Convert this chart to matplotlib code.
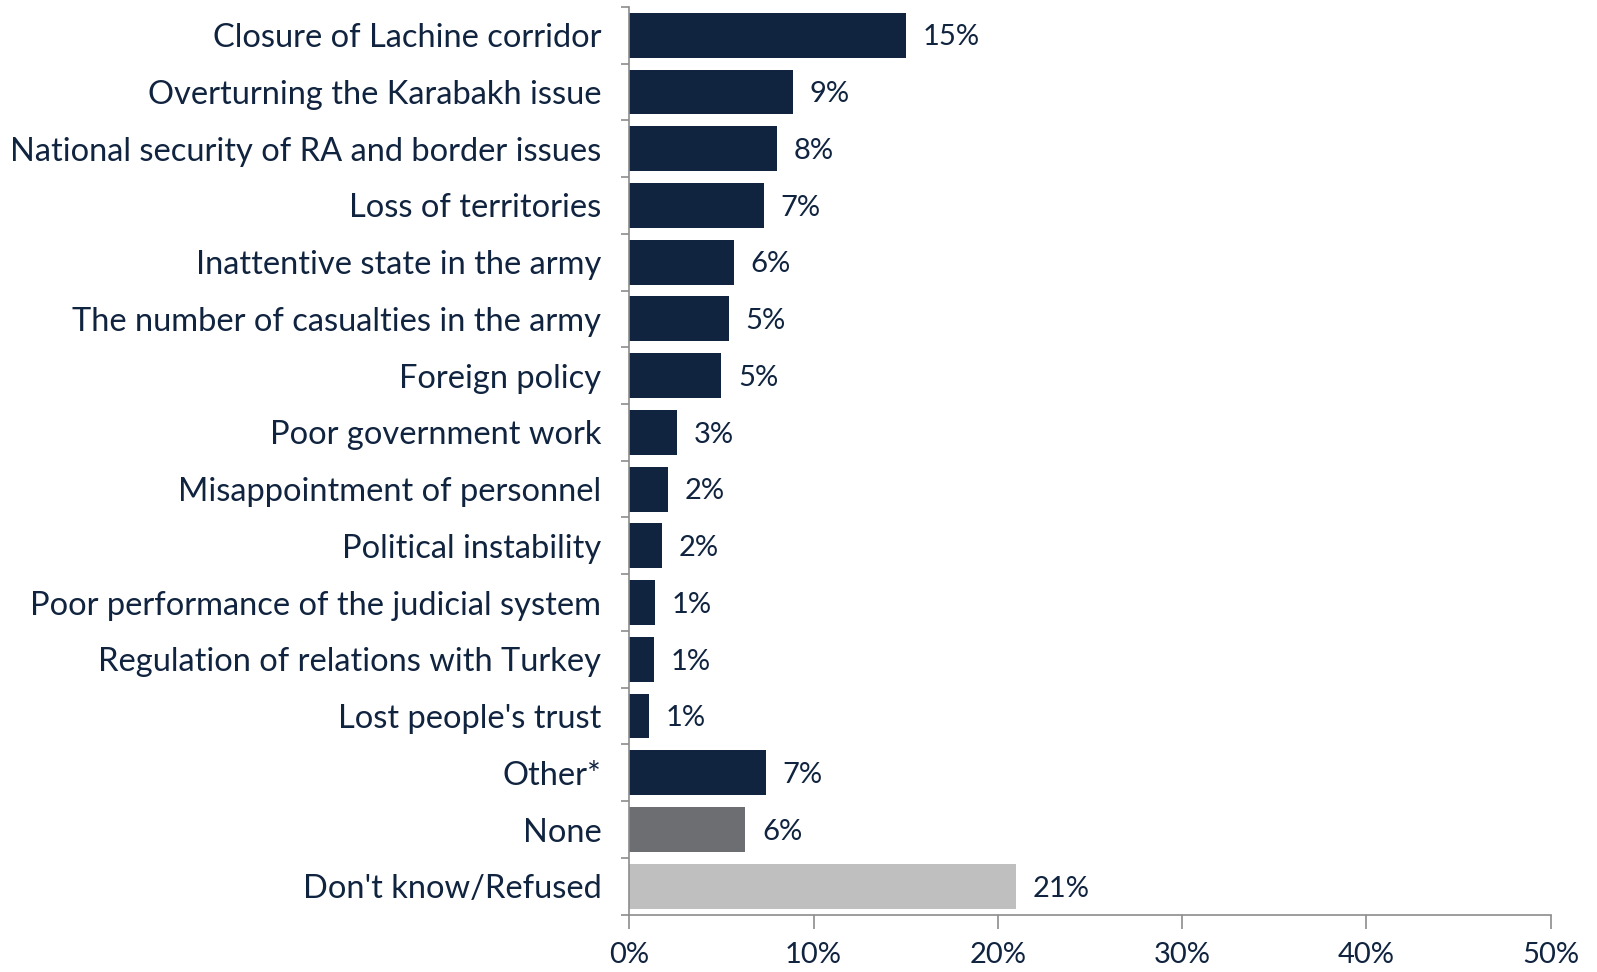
#! /usr/bin/env python3
# Horizontal bar chart: problems named by respondents

import numpy as np
import matplotlib.pyplot as plt

categories = ["Closure of Lachine corridor",
              "Overturning the Karabakh issue",
              "National security of RA and border issues",
              "Loss of territories",
              "Inattentive state in the army",
              "The number of casualties in the army",
              "Foreign policy",
              "Poor government work",
              "Misappointment of personnel",
              "Political instability",
              "Poor performance of the judicial system",
              "Regulation of relations with Turkey",
              "Lost people's trust",
              "Other*",
              "None",
              "Don't know/Refused"]
values = [15.0, 8.9, 8.0, 7.3, 5.7, 5.4, 5.0, 2.6, 2.1, 1.8, 1.4, 1.35, 1.05, 7.4, 6.3, 21.0]
value_labels = ["15%", "9%", "8%", "7%", "6%", "5%", "5%", "3%", "2%", "2%",
                "1%", "1%", "1%", "7%", "6%", "21%"]
xticks = [0, 10, 20, 30, 40, 50]

navy = "#10233f"
colors = [navy] * 14 + ["#6d6e71", "#bfbfbf"]
axis_gray = "#8c8c8c"

plt.rcParams['font.family'] = ['Lato', 'DejaVu Sans']
fs_cat = 23.5
fs_num = 21

fig = plt.figure(figsize=(15.97, 9.72), dpi=100)
ax = fig.add_axes([0.394, 0.059, 0.577, 0.934])

y = np.arange(len(categories))
ax.barh(y, values, height=0.79, color=colors)
for yi, v, lab in zip(y, values, value_labels):
    ax.text(v + 0.9, yi + 0.04, lab, va='center', ha='left', fontsize=fs_num, color=navy)

ax.set_ylim(len(categories) - 0.5, -0.5)
ax.set_xlim(0, 50)
ax.set_yticks(y)
ax.set_yticklabels(categories, fontsize=fs_cat, color=navy)
ax.tick_params(axis='y', length=0, pad=20)
ax.set_yticks(np.arange(-0.5, len(categories)), minor=True)
ax.tick_params(axis='y', which='minor', length=6, color=axis_gray, width=1.2)

ax.set_xticks(xticks)
ax.set_xticklabels([f"{t}%" for t in xticks], fontsize=fs_num, color=navy)
ax.tick_params(axis='x', length=10, color=axis_gray, width=1.2, pad=10)

for s in ['top', 'right']:
    ax.spines[s].set_visible(False)
for s in ['left', 'bottom']:
    ax.spines[s].set_color(axis_gray)
    ax.spines[s].set_linewidth(1.2)

fig.savefig("out.png", dpi=100)
